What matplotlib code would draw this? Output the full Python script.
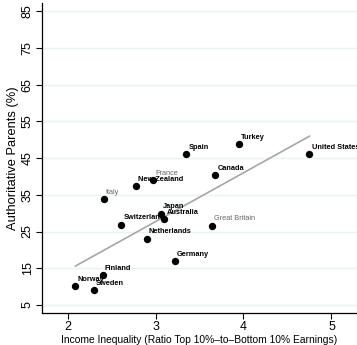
import numpy as np
import matplotlib.pyplot as plt

plt.rcParams["font.family"] = ["Liberation Sans", "DejaVu Sans"]

# Countries, earnings ratio (P90/P10) and share of authoritative parents
countries = ["Norway", "Sweden", "Finland", "Italy", "Switzerland", "New Zealand",
             "France", "Netherlands", "Japan", "Australia", "Germany", "Canada",
             "Great Britain", "Spain", "Turkey", "United States"]
inequality = [2.09, 2.30, 2.40, 2.41, 2.61, 2.78, 2.97, 2.90, 3.06, 3.10, 3.22,
              3.68, 3.64, 3.35, 3.95, 4.75]
authoritative = [10.2, 9.1, 13.2, 33.8, 26.9, 37.3, 39.0, 23.1, 29.9, 28.3, 17.0,
                 40.3, 26.6, 46.1, 48.8, 46.1]
# countries drawn with a light label
light_labels = {"France", "Italy", "Great Britain"}

# fitted line, endpoints at the smallest and largest inequality value
fit_x = [2.09, 4.75]
fit_y = [15.6, 51.0]

fig = plt.figure(figsize=(3.57, 3.45), dpi=100)
ax = fig.add_axes([42 / 357, 1 - 313 / 345, 1 - 42 / 357, 310 / 345])

ax.set_xlim(1.71, 5.29)
ax.set_ylim(2.8, 87.3)

for yy in range(5, 86, 10):
    ax.axhline(yy, color="#eaf2f3", linewidth=1.0, zorder=0)

ax.plot(fit_x, fit_y, color="#a6a6a6", linewidth=1.2, zorder=1)

ax.scatter(inequality, authoritative, s=28, color="black", zorder=3, linewidths=0)

for name, xi, yi in zip(countries, inequality, authoritative):
    if name in light_labels:
        ax.annotate(name, (xi, yi), xytext=(1.5, 2.4), textcoords="offset points",
                    fontsize=5.3, color="#666666", ha="left", va="bottom")
    else:
        ax.annotate(name, (xi, yi), xytext=(1.5, 2.4), textcoords="offset points",
                    fontsize=5.3, color="black", fontweight="bold",
                    ha="left", va="bottom")

ax.set_xticks([2, 3, 4, 5])
ax.set_yticks(range(5, 86, 10))
ax.set_yticklabels([str(v) for v in range(5, 86, 10)], rotation=90, va="center")
ax.tick_params(axis="both", labelsize=9, length=4, width=0.8, direction="out",
               colors="black", pad=2)

ax.set_xlabel("Income Inequality (Ratio Top 10%\u2013to\u2013Bottom 10% Earnings)",
              fontsize=7.4, labelpad=1)
ax.set_ylabel("Authoritative Parents (%)", fontsize=9.3, labelpad=2)

for side in ("top", "right"):
    ax.spines[side].set_visible(False)
ax.spines["left"].set_linewidth(0.9)
ax.spines["bottom"].set_linewidth(0.9)

fig.savefig("out.png", dpi=100)
